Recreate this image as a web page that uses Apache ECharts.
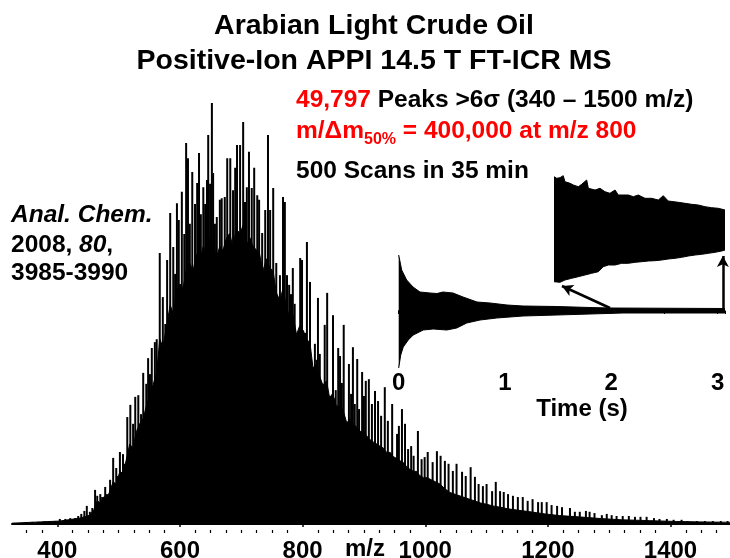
<!DOCTYPE html>
<html>
<head>
<meta charset="utf-8">
<title>Arabian Light Crude Oil - Positive-Ion APPI FT-ICR MS</title>
<script src="https://cdn.jsdelivr.net/npm/echarts@6/dist/echarts.min.js"></script>
<style>
  html, body { margin: 0; padding: 0; background: #fff; }
  #chart { width: 730px; height: 558px; }
</style>
</head>
<body>
<div id="chart"></div>
<script>
// spectrum peaks, [m/z, relative abundance %]
const lowMassPeaks = [
  [339, 0.2], [349, 0.4], [359, 0.5], [369, 0.5], [378, 0.6], [388, 0.7], [396, 0.7],
  [404, 1.2], [413, 1.2], [421, 1.4], [429, 1.4], [434, 1.9], [439, 2.4], [444, 3.1],
  [448, 4.3], [453, 2.9], [457, 3.8], [461.5, 8.1], [465, 6.7], [470, 7.1], [473, 6.4],
  [478, 8.8], [481, 7.1], [486, 10.5], [491, 15.7], [496, 13.3], [499, 11.4], [502, 17.1],
  [507, 16.6], [510, 14.3], [514, 25.4], [519, 28.3], [523.5, 23.8], [527, 30.2], [532, 30.6],
  [536.5, 26.1], [540, 35.9], [545, 33.3], [548, 39.4], [551, 35.6], [554, 41.8], [559, 43.2],
  [562, 43.9]
];
const apexPeaks = [
  [567, 64.4], [572, 53.9], [576, 47.5], [579, 62.7], [584, 73.9], [589, 65.8], [592, 59.4],
  [595, 76.2], [598, 72.2], [603, 78.9], [607, 68.9], [610, 90.5], [613, 86.9], [616, 71.3],
  [620, 83.6], [624.5, 76.0], [628, 81.0], [631, 88.1], [634, 73.6], [638, 80.0], [641, 76.0],
  [644, 81.7], [646, 92.4], [649, 80.8], [652, 100], [654, 83.4], [657, 71.3], [660, 72.9],
  [665, 77.0], [668, 77.4], [673, 77.7], [677, 86.9], [682, 86.9], [686.5, 79.3], [690, 84.6],
  [693, 90.0], [698, 90.0], [703, 95.5], [706, 76.5], [709, 80.0], [712.5, 88.4], [717, 79.8],
  [721, 84.6], [726, 78.1], [729, 77.0], [734, 69.1], [739, 74.6], [743.5, 92.4], [747, 74.6],
  [752, 79.8], [757, 62.0]
];
const highMassPeaks = [
  [760, 52.0], [763, 59.1], [768, 77.7], [771, 76.5], [774.5, 59.1], [778, 56.8], [781, 54.6],
  [784, 60.8], [787, 52.3], [791, 43.0], [796, 63.2], [799, 62.7], [804, 45.4], [807, 67.0],
  [812, 57.5], [817, 32.3], [820, 42.8], [823, 39.0], [825, 53.7], [828, 40.4], [831, 31.4],
  [836, 47.3], [840, 54.9], [845, 25.4], [849.5, 49.6], [854, 31.8], [858, 41.8], [861, 39.9],
  [864, 33.5], [867, 47.3], [872, 23.8], [875.5, 38.0], [879, 30.9], [882, 42.0], [885, 28.5],
  [889, 39.2], [892, 27.3], [897, 36.1], [900, 30.4], [903, 34.0], [908, 34.4], [913, 28.5],
  [918, 31.6], [923, 29.2], [928, 25.7], [934, 32.5], [939, 24.5], [946, 28.5], [954, 21.4],
  [957, 23.3], [962, 27.3], [967, 23.8], [972, 17.8], [977, 18.5], [981, 16.2], [988, 22.1],
  [994, 15.4], [999, 15.9]
];
const tailPeaks = [
  [1004, 17.1], [1012, 14.7], [1019, 17.3], [1025, 16.2], [1032, 15.0], [1038, 14.3], [1045, 12.6],
  [1051, 14.3], [1060, 12.4], [1066, 11.4], [1074, 13.5], [1081, 11.2], [1087, 9.5], [1094, 9.0],
  [1100, 9.5], [1109, 7.8], [1115, 10.0], [1122, 7.8], [1128, 7.6], [1135, 7.1], [1143, 6.7],
  [1151, 6.4], [1159, 6.4], [1167, 5.5], [1175, 5.9], [1184, 5.2], [1190, 5.2], [1198, 5.2],
  [1206, 4.5], [1215, 4.3], [1223, 4.0], [1236, 3.8], [1244, 2.9], [1252, 2.9], [1262, 3.1],
  [1268, 2.9], [1276, 2.6], [1288, 2.1], [1296, 2.4], [1304, 2.1], [1312, 1.9], [1322, 1.9],
  [1332, 1.9], [1342, 1.7], [1351, 1.7], [1361, 1.7], [1373, 1.4], [1382, 1.2], [1394, 1.2],
  [1405, 1.0], [1418, 1.0], [1428, 0.7], [1443, 0.7], [1456, 0.7], [1469, 0.7], [1482, 0.7],
  [1493, 0.7]
];
// unresolved "floor" under the peaks (top of the solid black region)
const bodyLow = [
  [326, 0.2], [372, 0.5], [404, 0.7], [437, 1.4], [453, 2.1], [460, 3.5], [465, 5.5], [470, 5],
  [476, 6.5], [481, 6], [486, 8], [491, 10], [496, 9.5], [502, 12.5], [507, 12], [512, 15],
  [518, 19], [523, 18], [529, 22], [535, 24], [540, 25], [545, 28], [551, 31], [556, 33],
  [562, 36]
];
const bodyApex = [
  [567, 44], [572, 42], [578, 47], [584, 52], [589, 50], [594, 55], [600, 57], [605, 56],
  [611, 61], [616, 62], [621, 60], [627, 64], [633, 63], [638, 66], [643, 64], [649, 68],
  [654, 67], [659, 63], [665, 66], [670, 65], [676, 68], [681, 69], [686, 66], [692, 70],
  [698, 69], [703, 71], [708, 66], [714, 68], [719, 66], [725, 65], [730, 64], [735, 60],
  [741, 63], [746, 61], [752, 60], [757, 55]
];
const bodyHigh = [
  [763, 53], [768, 56], [773, 52], [779, 49], [784, 50], [790, 45], [795, 47], [801, 46],
  [806, 44], [812, 43], [817, 37], [822, 38], [828, 35], [833, 33], [839, 34], [844, 30],
  [849, 31], [855, 28], [861, 28], [866, 27], [872, 24], [877, 25], [882, 24], [888, 23],
  [893, 22], [899, 22], [904, 21], [910, 20], [915, 19.5], [921, 19], [926, 18.5], [932, 18],
  [937, 17], [943, 17], [948, 16], [954, 15.5], [959, 15], [965, 14.5], [970, 13.5], [975, 13],
  [981, 12.5], [986, 12.5], [991, 11.5], [997, 11]
];
const bodyTail = [
  [1003, 11], [1010, 10.5], [1017, 10], [1024, 9.5], [1031, 8.5], [1040, 7.5], [1050, 7],
  [1060, 6.5], [1070, 6], [1080, 5.5], [1090, 5], [1100, 4.7], [1110, 4.3], [1122, 4.0],
  [1135, 3.6], [1150, 3.3], [1171, 2.9], [1195, 2.4], [1219, 2.0], [1250, 1.7], [1285, 1.3],
  [1320, 1.0], [1366, 0.8], [1410, 0.6], [1448, 0.5], [1497, 0.4]
];
const mzLabels = [400, 600, 800, 1000, 1200, 1400];
const mzMinorTicks = [350, 375, 425, 450, 475, 500, 525, 550, 575, 625, 650, 675, 700, 725, 750,
  775, 825, 850, 875, 900, 925, 950, 975, 1025, 1050, 1075, 1100, 1125, 1150, 1175, 1225, 1250,
  1275, 1300, 1325, 1350, 1375, 1425, 1450, 1475];

// transient (time domain) envelope, [time s, amplitude]
const fidUpper = [
  [0, 56], [0.028, 41], [0.075, 31], [0.135, 24], [0.2, 19], [0.294, 18], [0.36, 17.5],
  [0.417, 19], [0.511, 18], [0.605, 14], [0.737, 9], [0.859, 8], [1.019, 6], [1.169, 5],
  [1.488, 4.5], [1.799, 3.5], [1.988, 3], [3.07, 2.5]
];
const fidLower = [
  [0, -57], [0.019, -44], [0.043, -36], [0.09, -29], [0.137, -24], [0.231, -19], [0.325, -18],
  [0.452, -19], [0.546, -17], [0.64, -12], [0.765, -9], [0.922, -7], [1.169, -5], [1.488, -4],
  [1.799, -3], [2.11, -2], [3.07, -2]
];
// magnified piece of the transient
const zoomUpper = [
  [0, 52.8], [0.016, 51.2], [0.035, 51.8], [0.054, 53.8], [0.064, 47.8], [0.094, 46.2],
  [0.113, 44.5], [0.142, 42.8], [0.162, 45.2], [0.191, 49.5], [0.201, 41.2], [0.24, 39.5],
  [0.269, 41.2], [0.298, 37.8], [0.327, 36.2], [0.357, 39.5], [0.376, 34.5], [0.435, 34.5],
  [0.464, 32.8], [0.493, 34.5], [0.532, 31.2], [0.571, 31.2], [0.61, 29.5], [0.639, 33.8],
  [0.668, 28.5], [0.727, 27.2], [0.766, 26.2], [0.805, 25.2], [0.844, 24.5], [0.883, 22.8],
  [0.922, 21.8], [0.961, 21.2], [1, 19.5]
];
const zoomLower = [
  [0, -52.2], [0.035, -52.8], [0.064, -50.5], [0.103, -48.8], [0.142, -47.2], [0.181, -45.5],
  [0.22, -43.8], [0.259, -42.2], [0.288, -37.2], [0.318, -35.5], [0.357, -35.5], [0.396, -33.8],
  [0.435, -33.8], [0.474, -32.8], [0.513, -32.2], [0.552, -31.5], [0.591, -31.2], [0.63, -30.5],
  [0.668, -29.5], [0.708, -28.8], [0.747, -27.8], [0.786, -26.5], [0.825, -25.5], [0.864, -24.8],
  [0.903, -23.8], [0.942, -22.8], [0.981, -21.5], [1, -20.5]
];
const timeLabels = [0, 1, 2, 3];

const FONT = "'Liberation Sans', Arial, sans-serif";
const RED = '#ff0000';

function textWidth(str, size, style) {
  const ctx = document.createElement('canvas').getContext('2d');
  ctx.font = style + ' ' + size + 'px ' + FONT;
  return ctx.measureText(str).width;
}

function label(text, x, y, size, opts) {
  opts = opts || {};
  return {
    type: 'text',
    x: x,
    y: y,
    z: 10,
    style: {
      text: text,
      font: (opts.style || 'bold') + ' ' + size + 'px ' + FONT,
      fill: opts.color || '#000',
      textAlign: opts.align || 'left',
      textVerticalAlign: 'middle',
      rich: opts.rich
    }
  };
}

function envelope(data, xi, yi, origin) {
  return {
    type: 'line',
    xAxisIndex: xi,
    yAxisIndex: yi,
    data: data,
    symbol: 'none',
    lineStyle: { color: '#000', width: 1 },
    areaStyle: { color: '#000', opacity: 1, origin: origin }
  };
}

const TXT = 24.5;
const resX = 296;
const resW1 = textWidth('m/\u0394m', TXT, 'bold');
const resW2 = textWidth('50%', 16, 'bold');

const chart = echarts.init(document.getElementById('chart'));

const floor = envelope(bodyLow.concat(bodyApex, bodyHigh, bodyTail), 0, 0, 'auto');
floor.name = 'floor';
floor.z = 1;

const transientUp = envelope(fidUpper, 2, 1, -1);
transientUp.markLine = {
  silent: true,
  symbol: ['none', 'arrow'],
  symbolSize: [9, 11],
  label: { show: false },
  lineStyle: { color: '#000', width: 2.5, type: 'solid' },
  data: [
    [{ coord: [1.988, 3] }, { coord: [1.536, 25] }],
    [{ coord: [3.05, 0] }, { coord: [3.05, 55] }]
  ]
};

const option = {
  animation: false,
  backgroundColor: '#fff',
  grid: [
    { left: 12, right: 0, top: 103, bottom: 34, outerBoundsMode: 'none' },
    { left: 398.7, width: 326.3, top: 248, height: 120, outerBoundsMode: 'none' },
    { left: 554, width: 171, top: 170, height: 120, outerBoundsMode: 'none' }
  ],
  xAxis: [
    {
      gridIndex: 0, type: 'value', position: 'bottom', min: 326, max: 1497, offset: 6,
      axisLine: { lineStyle: { color: '#000', width: 2 } },
      axisTick: { customValues: mzLabels, length: 3, lineStyle: { color: '#000', width: 1.5 } },
      axisLabel: {
        customValues: mzLabels, margin: 9, color: '#000',
        fontSize: 24, fontWeight: 'bold', fontFamily: FONT,
        formatter: function (v) { return String(v); }
      },
      splitLine: { show: false }
    },
    {
      gridIndex: 0, type: 'value', position: 'bottom', min: 326, max: 1497, offset: 6,
      axisLine: { show: false },
      axisTick: { customValues: mzMinorTicks, length: 3, lineStyle: { color: '#000', width: 1.2 } },
      axisLabel: { show: false },
      splitLine: { show: false }
    },
    {
      gridIndex: 1, type: 'value', min: 0, max: 3.07, interval: 0.5,
      axisLine: { lineStyle: { color: '#000', width: 1.5 } },
      axisTick: { length: 3, lineStyle: { color: '#000', width: 1 } },
      minorTick: { show: true, splitNumber: 2, length: 2, lineStyle: { color: '#000', width: 1 } },
      axisLabel: {
        customValues: timeLabels, margin: 3, color: '#000',
        fontSize: 24, fontWeight: 'bold', fontFamily: FONT
      },
      splitLine: { show: false }
    },
    { gridIndex: 2, type: 'value', min: 0, max: 1, show: false }
  ],
  yAxis: [
    { gridIndex: 0, type: 'value', min: 0, max: 100, show: false },
    { gridIndex: 1, type: 'value', min: -57, max: 63, show: false },
    { gridIndex: 2, type: 'value', min: -60.5, max: 59.5, show: false }
  ],
  series: [
    floor,
    {
      name: 'peaks',
      type: 'bar',
      xAxisIndex: 0, yAxisIndex: 0,
      data: lowMassPeaks.concat(apexPeaks, highMassPeaks, tailPeaks),
      barWidth: 2,
      itemStyle: { color: '#000' },
      z: 2
    },
    transientUp,
    envelope(fidLower, 2, 1, 1),
    envelope(zoomUpper, 3, 2, -3),
    envelope(zoomLower, 3, 2, 3)
  ],
  graphic: [
    label('Arabian Light Crude Oil', 374, 26, 28.5, { align: 'center' }),
    label('Positive-Ion APPI 14.5 T FT-ICR MS', 374, 61, 28.5, { align: 'center' }),
    label('{r|49,797}{k| Peaks >6\u03c3 (340 \u2013 1500 m/z)}', resX, 100, TXT, {
      rich: {
        r: { fill: RED, font: 'bold ' + TXT + 'px ' + FONT },
        k: { fill: '#000', font: 'bold ' + TXT + 'px ' + FONT }
      }
    }),
    label('m/\u0394m', resX, 131.5, TXT, { color: RED }),
    label('50%', resX + resW1, 140, 16, { color: RED }),
    label(' = 400,000 at m/z 800', resX + resW1 + resW2, 131.5, TXT, { color: RED }),
    label('500 Scans in 35 min', resX, 171.5, TXT),
    label('Anal. Chem.', 11, 215, TXT, { style: 'italic bold' }),
    label('{n|2008, }{i|80}{n|,}', 11, 245, TXT, {
      rich: {
        n: { fill: '#000', font: 'bold ' + TXT + 'px ' + FONT },
        i: { fill: '#000', font: 'italic bold ' + TXT + 'px ' + FONT }
      }
    }),
    label('3985-3990', 11, 273, TXT),
    label('m/z', 345, 549.5, 24),
    label('Time (s)', 582, 409, 24, { align: 'center' })
  ]
};
chart.setOption(option);
</script>
</body>
</html>
